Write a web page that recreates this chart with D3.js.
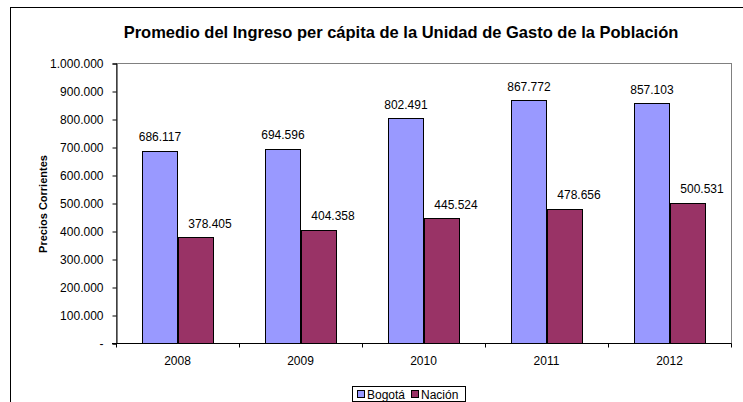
<!DOCTYPE html>
<html>
<head>
<meta charset="utf-8">
<script src="https://cdn.jsdelivr.net/npm/d3@7"></script>
<style>
  body { margin: 0; background: #fff; }
  svg text { font-family: Arial, "Liberation Sans", sans-serif; }
</style>
</head>
<body>
<svg id="chart" width="743" height="402"></svg>
<script>
// data
var years = ["2008", "2009", "2010", "2011", "2012"];
var bogota = [686117, 694596, 802491, 867772, 857103];
var nacion = [378405, 404358, 445524, 478656, 500531];
var seriesNames = ["Bogotá", "Nación"];
var seriesColors = ["#9999FF", "#993366"];
var yTicks = [0, 100000, 200000, 300000, 400000, 500000, 600000, 700000, 800000, 900000, 1000000];

var svg = d3.select("#chart");
var plot = { left: 116, right: 731, top: 63, bottom: 343 };

// es-CO style numbers: 1.000.000
var loc = d3.formatLocale({ decimal: ",", thousands: ".", grouping: [3], currency: ["$", ""] });
var fmt = loc.format(",.0f");
function tickFmt(v) { return v === 0 ? "-" : fmt(v); }

// outer chart border (runs off the window on the right / bottom)
svg.append("rect")
  .attr("x", 10.5).attr("y", 7.5)
  .attr("width", 800).attr("height", 420)
  .attr("fill", "#fff").attr("stroke", "#000");

svg.append("text")
  .attr("x", 401).attr("y", 38)
  .attr("text-anchor", "middle")
  .attr("font-size", 16.5).attr("font-weight", "bold")
  .text("Promedio del Ingreso per cápita de la Unidad de Gasto de la Población");

var x = d3.scaleBand().domain(years).range([plot.left, plot.right]).paddingInner(0).paddingOuter(0);
var y = d3.scaleLinear().domain([0, 1000000]).range([plot.bottom, plot.top]);
var groupW = x.bandwidth() * 0.57;
var barW = groupW / 2;
var labelShift = [0, 15]; // Nación labels sit a bit to the right

// plot area frame (grey top/right)
svg.append("rect")
  .attr("x", plot.left + 0.5).attr("y", plot.top + 0.5)
  .attr("width", plot.right - plot.left).attr("height", plot.bottom - plot.top)
  .attr("fill", "#fff").attr("stroke", "#808080");

var rows = years.map(function(yr, i) {
  return { year: yr, values: [bogota[i], nacion[i]] };
});

var g = svg.append("g");
rows.forEach(function(r) {
  var x0 = x(r.year) + (x.bandwidth() - groupW) / 2;
  r.values.forEach(function(v, j) {
    g.append("rect")
      .attr("x", Math.round(x0 + j * barW) + 0.5)
      .attr("y", Math.round(y(v)) + 0.5)
      .attr("width", Math.round(barW))
      .attr("height", plot.bottom - Math.round(y(v)))
      .attr("fill", seriesColors[j])
      .attr("stroke", "#000");
    g.append("text")
      .attr("x", x0 + j * barW + barW / 2 + labelShift[j])
      .attr("y", y(v) - 9.5)
      .attr("text-anchor", "middle")
      .attr("font-size", 12)
      .text(fmt(v));
  });
});

// y axis
var yAxis = svg.append("g")
  .attr("transform", "translate(" + (plot.left + 0.5) + ",0.5)")
  .call(d3.axisLeft(y).tickValues(yTicks).tickFormat(tickFmt).tickSize(4).tickPadding(9));
yAxis.select(".domain").attr("stroke", "#000");
yAxis.selectAll("text").attr("font-size", 12).attr("font-family", "Arial, 'Liberation Sans', sans-serif").attr("fill", "#000");

// x axis with ticks between categories
var xAxis = svg.append("g")
  .attr("transform", "translate(0," + (plot.bottom + 0.5) + ")");
xAxis.append("line")
  .attr("x1", plot.left - 4).attr("x2", plot.right + 0.5)
  .attr("stroke", "#000");
var bounds = years.map(function(yr) { return x(yr); }).concat([plot.right]);
xAxis.selectAll("line.tk").data(bounds).enter().append("line")
  .attr("class", "tk")
  .attr("x1", function(d) { return Math.round(d) + 0.5; })
  .attr("x2", function(d) { return Math.round(d) + 0.5; })
  .attr("y1", 0).attr("y2", 4)
  .attr("stroke", "#000");
xAxis.selectAll("text").data(years).enter().append("text")
  .attr("x", function(d) { return x(d) + x.bandwidth() / 2; })
  .attr("y", 21.5)
  .attr("text-anchor", "middle")
  .attr("font-size", 12)
  .text(function(d) { return d; });

svg.append("text")
  .attr("transform", "translate(47,204) rotate(-90)")
  .attr("text-anchor", "middle")
  .attr("font-size", 11).attr("font-weight", "bold")
  .text("Precios Corrientes");

// legend
var leg = svg.append("g").attr("transform", "translate(352,386)");
leg.append("rect")
  .attr("x", 0.5).attr("y", 0.5).attr("width", 113).attr("height", 15)
  .attr("fill", "#fff").attr("stroke", "#000");
var lx = [5, 59];
seriesNames.forEach(function(name, j) {
  leg.append("rect")
    .attr("x", lx[j] + 0.5).attr("y", 4.5).attr("width", 7).attr("height", 7)
    .attr("fill", seriesColors[j]).attr("stroke", "#000");
  leg.append("text")
    .attr("x", lx[j] + 10).attr("y", 12.5)
    .attr("font-size", 12)
    .text(name);
});
</script>
</body>
</html>
